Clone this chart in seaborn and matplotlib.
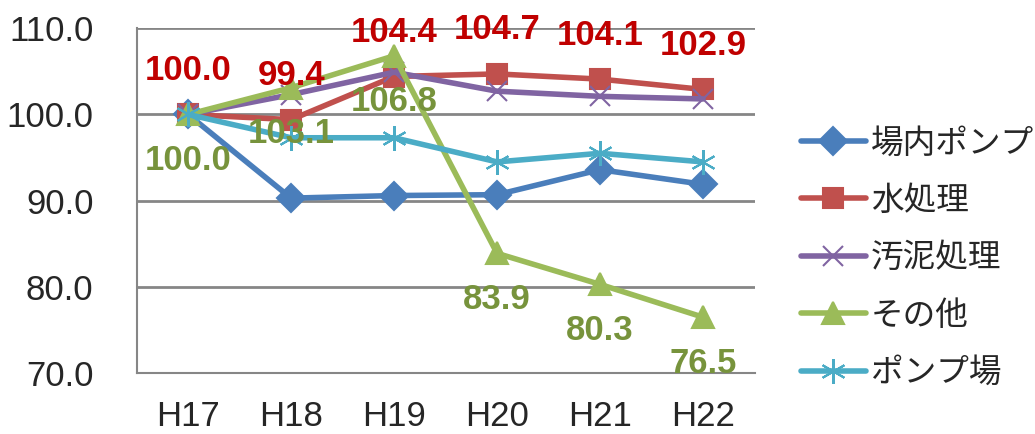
import numpy as np
import pandas as pd
import matplotlib
matplotlib.use('Agg')
import matplotlib.pyplot as plt
import seaborn as sns

years = ['H17', 'H18', 'H19', 'H20', 'H21', 'H22']
series_names = ['場内ポンプ', '水処理', '汚泥処理', 'その他', 'ポンプ場']
pump_in = [100.0, 90.3, 90.6, 90.7, 93.6, 91.9]
water = [100.0, 99.4, 104.4, 104.7, 104.1, 102.9]
sludge = [100.0, 102.3, 104.9, 102.7, 102.1, 101.8]
other = [100.0, 103.1, 106.8, 83.9, 80.3, 76.5]
pump_st = [100.0, 97.3, 97.3, 94.5, 95.5, 94.5]

sns.set_style('white')
plt.rcParams['font.family'] = ['Liberation Sans', 'Noto Sans CJK JP', 'DejaVu Sans']

df = pd.DataFrame({'year': years * 5,
                   'x': list(range(6)) * 5,
                   'value': pump_in + water + sludge + other + pump_st,
                   'series': np.repeat(series_names, 6)})

colors = ['#4A7EBB', '#C0504D', '#8064A2', '#9BBB59', '#4BACC6']
markers = ['D', 's', 'x', '^', (6, 2, 0)]
msizes = [14, 15, 14, 16, 18]

fig, ax = plt.subplots(figsize=(10.35, 4.34), dpi=100)
fig.subplots_adjust(left=0.132, right=0.729, bottom=0.14, top=0.935)

for name, c, m, ms in zip(series_names, colors, markers, msizes):
    d = df[df.series == name]
    sns.lineplot(data=d, x='x', y='value', color=c, marker=m, markersize=ms,
                 linewidth=4, markeredgecolor=c, markeredgewidth=1.5,
                 label=name, ax=ax)

# data labels: red above, green below (offsets in pixels)
for i, v in enumerate(water):
    ax.annotate(f'{v:.1f}', (i, v), xytext=(0, 44), textcoords='offset pixels',
                ha='center', va='center', color='#C00000', fontsize=25,
                fontweight='bold')
for i, v in enumerate(other):
    ax.annotate(f'{v:.1f}', (i, v), xytext=(0, -46), textcoords='offset pixels',
                ha='center', va='center', color='#77933C', fontsize=25,
                fontweight='bold')

ax.set_xlim(-0.5, 5.5)
ax.set_ylim(70, 110)
ax.set_xticks(range(6), labels=years)
ax.set_xticks(np.arange(-0.5, 6, 1), minor=True)
ax.set_yticks([70, 80, 90, 100, 110], labels=[f'{t:.1f}' for t in [70, 80, 90, 100, 110]])
ax.tick_params(axis='x', which='major', length=0, labelsize=25, pad=19)
ax.tick_params(axis='x', which='minor', length=7, width=1.5, color='#868686', direction='out')
ax.tick_params(axis='y', length=7, width=1.5, color='#868686', direction='out', labelsize=25, pad=24)
ax.grid(axis='y', color='#868686', linewidth=2)
ax.set_axisbelow(True)
ax.set_xlabel('')
ax.set_ylabel('')
for s in ['top', 'right']:
    ax.spines[s].set_visible(False)
for s in ['left', 'bottom']:
    ax.spines[s].set_color('#868686')
    ax.spines[s].set_linewidth(1.5)

ax.legend(loc='center left', bbox_to_anchor=(1.075, 0.333), frameon=False,
          prop={'family': ['Noto Sans CJK JP', 'DejaVu Sans'], 'size': 23.5},
          handlelength=2.0, labelspacing=0.78, handletextpad=0.15,
          borderpad=0, borderaxespad=0)

fig.savefig('out.png', dpi=100)
